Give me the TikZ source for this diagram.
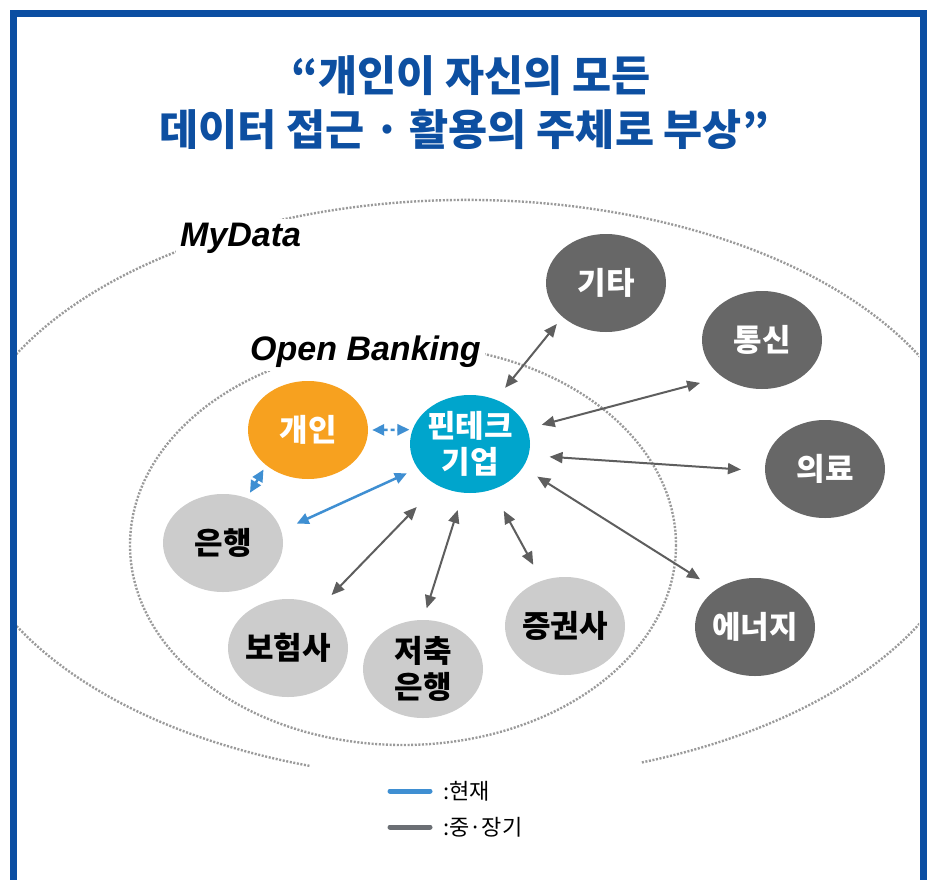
\documentclass[tikz,border=0pt]{standalone}
\usepackage{fontspec}
\setmainfont{Liberation Sans}
\newfontfamily\kr{Noto Sans CJK KR}
\usetikzlibrary{arrows.meta,shapes.geometric}

\definecolor{cFrame}{HTML}{0B4EA2}
\definecolor{cTitle}{HTML}{0D4FA1}
\definecolor{cZone}{HTML}{9A9A9A}
\definecolor{cOrange}{HTML}{F7A11F}
\definecolor{cCyan}{HTML}{00A5CC}
\definecolor{cLight}{HTML}{CCCCCC}
\definecolor{cDark}{HTML}{676767}
\definecolor{cLater}{HTML}{5E5E5E}
\definecolor{cNow}{HTML}{3F8FD2}
\definecolor{cLegGray}{HTML}{6B6F74}

\begin{document}
\begin{tikzpicture}[x=1pt,y=-1pt,
  frame/.style={draw=cFrame,line width=7pt},
  title/.style={text=cTitle,font=\kr\bfseries\fontsize{42.5}{42.5}\selectfont,inner sep=0pt},
  zone/.style={draw=cZone,line width=2.4pt,dash pattern=on 2pt off 1.6pt},
  zonelabel/.style={fill=white,inner sep=4pt,font=\bfseries\itshape\fontsize{34}{34}\selectfont},
  blob/.style={ellipse,minimum width=120pt,minimum height=98pt,inner sep=0pt},
  wtxt/.style={text=white,align=center,font=\kr\bfseries\fontsize{31}{36}\selectfont},
  btxt/.style={text=black,align=center,font=\kr\bfseries\fontsize{31}{36}\selectfont},
  later/.style={draw=cLater,line width=2pt,
    arrows={Triangle[length=13pt,width=11pt]-Triangle[length=13pt,width=11pt]}},
  now/.style={draw=cNow,line width=2.5pt,
    arrows={Triangle[length=12pt,width=11pt]-Triangle[length=12pt,width=11pt]}},
  nowdash/.style={now,dash pattern=on 4pt off 3pt},
  legline/.style={line width=5pt,line cap=round},
  legtxt/.style={font=\kr\fontsize{22}{22}\selectfont,inner sep=0pt}
]
\useasboundingbox (0,0) rectangle (934,880);
\fill[white] (0,0) rectangle (934,880);

% outer frame, open at the bottom
\draw[frame] (13.5,890) -- (13.5,13.5) -- (923,13.5) -- (923,890);

% heading
\node[title] (t1) at (471,76) {“개인이 자신의 모든};
\node[title] (t2) at (464,129) {데이터 접근 · 활용의 주체로 부상”};

% MyData and Open Banking zones
\begin{scope}
  \clip (17,17) rectangle (919,880);
  \draw[zone] (467,490) ++(108:510 and 290)
    arc[start angle=108,end angle=430,x radius=510,y radius=290];
  \draw[zone] (403,545) ellipse[x radius=273,y radius=200];
\end{scope}
\node[zonelabel,anchor=base west] (mydata) at (176,246) {MyData};
\node[zonelabel,anchor=base west] (openbk) at (246,360) {Open Banking};

% participants
\node[blob,fill=cOrange,label={[wtxt]center:개인}] (gaein) at (308,430) {};
\node[blob,fill=cCyan,label={[wtxt]center:핀테크\\기업}] (fin) at (470,444) {};
\node[blob,fill=cLight,label={[btxt]center:은행}] (bank) at (223,543) {};
\node[blob,fill=cLight,label={[btxt]center:보험사}] (insur) at (288,648) {};
\node[blob,fill=cLight,label={[btxt]center:저축\\은행}] (savings) at (423,669) {};
\node[blob,fill=cLight,label={[btxt]center:증권사}] (sec) at (565,626) {};
\node[blob,fill=cDark,label={[wtxt]center:기타}] (gita) at (606,283) {};
\node[blob,fill=cDark,label={[wtxt]center:통신}] (tel) at (762,340) {};
\node[blob,fill=cDark,label={[wtxt]center:의료}] (med) at (825,469) {};
\node[blob,fill=cDark,label={[wtxt]center:에너지}] (energy) at (755,627) {};

% mid/long-term links
\draw[later,shorten <=15pt,shorten >=9pt] (fin.60) -- (gita.218);
\draw[later,shorten <=15pt,shorten >=23pt] (fin.15) -- (tel.223);
\draw[later,shorten <=21pt,shorten >=24pt] (fin.-11) -- (med.182);
\draw[later,shorten <=17pt,shorten >=19pt] (fin.-24) -- (energy.136);
\draw[later,shorten <=24pt,shorten >=18pt] (fin.-64) -- (sec.117);
\draw[later,shorten <=18pt,shorten >=12pt] (fin.262) -- (savings.90);
\draw[later,shorten <=30pt,shorten >=16pt] (fin.232) -- (insur.52);

% current links
\draw[nowdash,shorten <=4pt,shorten >=3pt] (gaein.0) -- (fin.166);
\draw[nowdash,shorten <=5pt,shorten >=6pt] (gaein.220) -- (bank.62);
\draw[now,shorten <=12pt,shorten >=17pt] (fin.205) -- (bank.12);

% legend
\draw[legline,draw=cNow] (390,791) -- (430,791);
\node[legtxt,anchor=west] (leg1) at (443,791) {:현재};
\draw[legline,draw=cLegGray] (390,827) -- (430,827);
\node[legtxt,anchor=west] (leg2) at (443,827) {:중·장기};
\end{tikzpicture}
\end{document}
